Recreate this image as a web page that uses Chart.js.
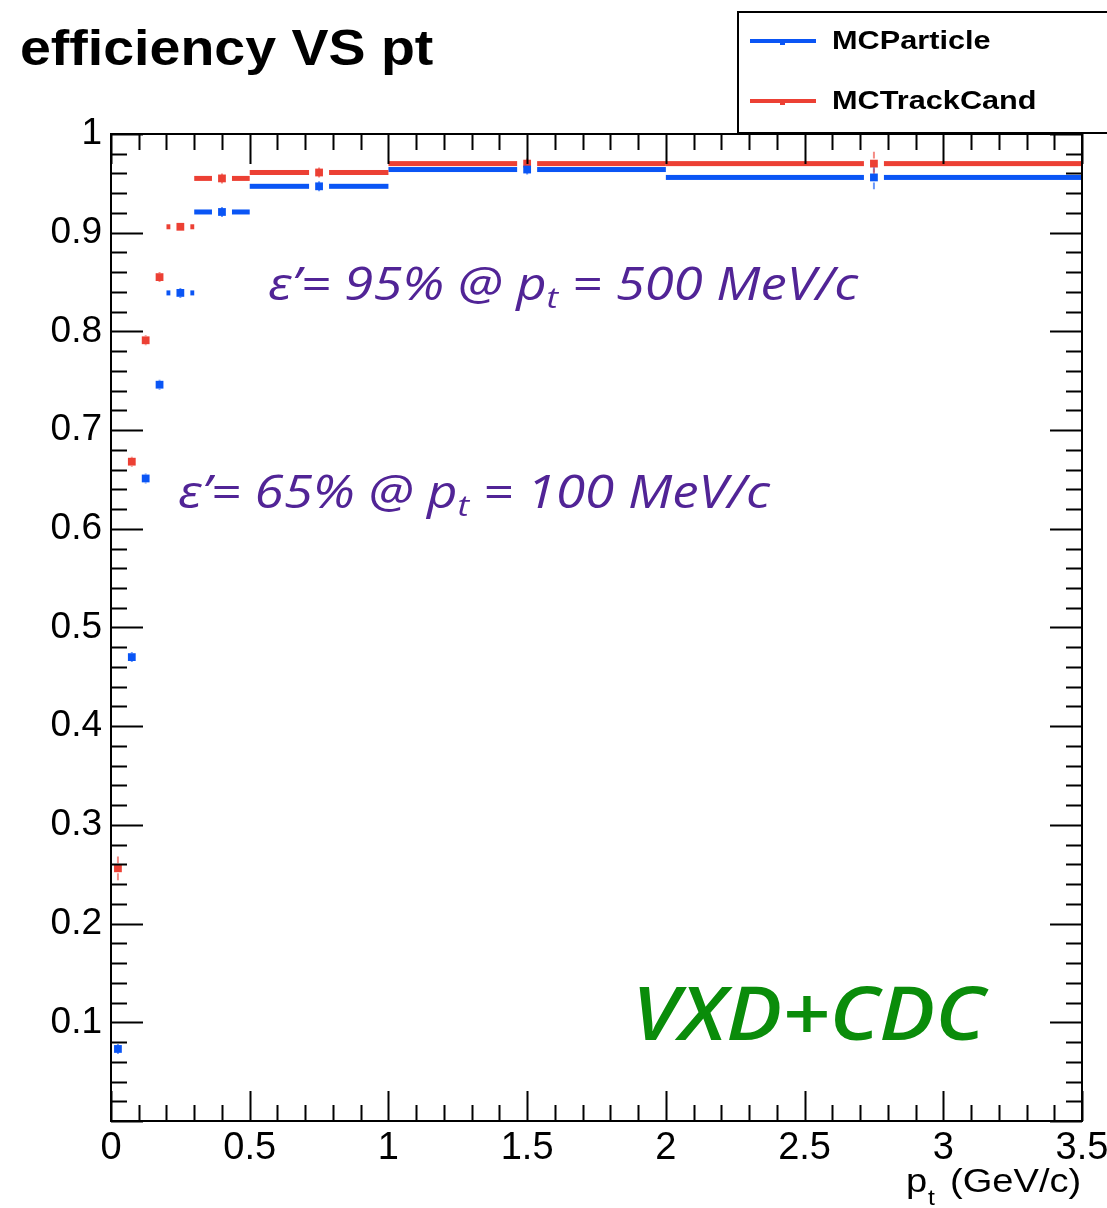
<!DOCTYPE html>
<html>
<head>
<meta charset="utf-8">
<script src="https://cdn.jsdelivr.net/npm/chart.js@4.4.0/dist/chart.umd.min.js"></script>
<style>
	html, body { margin: 0; padding: 0; background: #fff; }
	canvas { display: block; }
</style>
</head>
<body>
<canvas id="effChart" width="1107" height="1208"></canvas>
<script>
// bin edges in pt (GeV/c), variable width
const binEdges = [0, 0.05, 0.1, 0.15, 0.2, 0.3, 0.5, 1.0, 2.0, 3.5];
// efficiency per bin
const particleEff  = [0.073, 0.470, 0.651, 0.746, 0.839, 0.921, 0.947, 0.964, 0.956];
const trackCandEff = [0.256, 0.668, 0.791, 0.855, 0.906, 0.955, 0.961, 0.970, 0.970];
// errors (mostly tiny)
const particleErr  = [0.003, 0.004, 0.004, 0.004, 0.004, 0.003, 0.003, 0.003, 0.012];
const trackCandErr = [0.012, 0.004, 0.004, 0.004, 0.005, 0.003, 0.003, 0.003, 0.012];
const seriesNames = ['MCParticle', 'MCTrackCand'];
const xTickStep = 0.5;
const yTickStep = 0.1;

const BLUE = '#0a55f5';
const RED = '#ec4034';
const PURPLE = '#512496';
const GREEN = '#0a8c0a';

const binCenters = binEdges.slice(0, -1).map((e, i) => (e + binEdges[i + 1]) / 2);
const toPoints = vals => vals.map((v, i) => ({ x: binCenters[i], y: v }));

// draws text with a bit of horizontal stretch like the ROOT picture
const stretchText = (ctx, txt, x, y, sx) => {
	ctx.save();
	ctx.translate(x, y);
	ctx.scale(sx, 1);
	ctx.fillText(txt, 0, 0);
	ctx.restore();
};

const rootStyle = {
	id: 'rootStyle',
	beforeDatasetsDraw(chart) {
		const ctx = chart.ctx;
		const xs = chart.scales.x, ys = chart.scales.y;
		chart.data.datasets.forEach(ds => {
			ctx.save();
			ctx.fillStyle = ds.borderColor;
			ctx.strokeStyle = ds.borderColor;
			ds.data.forEach((p, i) => {
				const xl = xs.getPixelForValue(binEdges[i]);
				const xr = xs.getPixelForValue(binEdges[i + 1]);
				const xc = xs.getPixelForValue(p.x);
				const yp = ys.getPixelForValue(p.y);
				const gap = 10;
				if (xc - gap > xl) ctx.fillRect(xl, yp - 2.5, xc - gap - xl, 5);
				if (xr > xc + gap) ctx.fillRect(xc + gap, yp - 2.5, xr - xc - gap, 5);
				// vertical error bar
				const err = ds.errors[i];
				const yt = ys.getPixelForValue(p.y + err);
				const yb = ys.getPixelForValue(p.y - err);
				ctx.globalAlpha = 0.6;
				ctx.lineWidth = 2;
				ctx.beginPath();
				ctx.moveTo(xc, yt); ctx.lineTo(xc, yp - 5);
				ctx.moveTo(xc, yp + 5); ctx.lineTo(xc, yb);
				ctx.stroke();
				ctx.globalAlpha = 1;
			});
			ctx.restore();
		});
	},
	afterDraw(chart) {
		const ctx = chart.ctx;
		const a = chart.chartArea;
		const xs = chart.scales.x, ys = chart.scales.y;
		ctx.save();

		// frame
		ctx.strokeStyle = '#000';
		ctx.lineWidth = 2;
		ctx.strokeRect(a.left, a.top, a.right - a.left, a.bottom - a.top);

		// inner ticks on all four sides
		ctx.lineWidth = 2;
		ctx.beginPath();
		for (let v = 0; v <= 1.0001; v += 0.02) {
			const yy = Math.round(ys.getPixelForValue(v)) + 0.5;
			const major = Math.abs(v / yTickStep - Math.round(v / yTickStep)) < 1e-6;
			const len = major ? 32 : 16;
			ctx.moveTo(a.left, yy); ctx.lineTo(a.left + len, yy);
			ctx.moveTo(a.right, yy); ctx.lineTo(a.right - len, yy);
		}
		for (let v = 0; v <= 3.5001; v += 0.1) {
			const xx = Math.round(xs.getPixelForValue(v)) + 0.5;
			const major = Math.abs(v / xTickStep - Math.round(v / xTickStep)) < 1e-6;
			const len = major ? 30 : 16;
			ctx.moveTo(xx, a.bottom); ctx.lineTo(xx, a.bottom - len);
			ctx.moveTo(xx, a.top); ctx.lineTo(xx, a.top + len);
		}
		ctx.stroke();

		// title
		ctx.fillStyle = '#000';
		ctx.textBaseline = 'alphabetic';
		ctx.textAlign = 'left';
		ctx.font = 'bold 50px "Liberation Sans"';
		stretchText(ctx, 'efficiency VS pt', 20, 65, 1.11);

		// legend box
		ctx.fillStyle = '#fff';
		ctx.fillRect(738, 12, 400, 121);
		ctx.strokeStyle = '#000';
		ctx.lineWidth = 2;
		ctx.strokeRect(738, 12, 400, 121);
		const rows = [41, 101];
		chart.data.datasets.forEach((ds, i) => {
			const yy = rows[i];
			ctx.fillStyle = ds.borderColor;
			ctx.fillRect(750, yy - 2, 66, 4);
			ctx.fillRect(780, yy, 5, 4);
			ctx.fillStyle = '#000';
			ctx.font = 'bold 26px "Liberation Sans"';
			ctx.textBaseline = 'middle';
			stretchText(ctx, ds.label, 832, yy + 1, 1.18);
		});

		// axis title p_t (GeV/c)
		ctx.fillStyle = '#000';
		ctx.textBaseline = 'alphabetic';
		ctx.font = '34px "Liberation Sans"';
		stretchText(ctx, 'p', 906, 1192, 1.12);
		ctx.font = '22px "Liberation Sans"';
		stretchText(ctx, 't', 928, 1205, 1.12);
		ctx.font = '34px "Liberation Sans"';
		stretchText(ctx, '(GeV/c)', 950, 1192, 1.12);

		// annotations, stretched to the width they have in the picture
		const note = (x, y, width, pre, post) => {
			const big = 'italic 45px "Open Sans"', small = 'italic 30px "Open Sans"';
			ctx.font = big;
			const w1 = ctx.measureText(pre).width, w2 = ctx.measureText('p').width, w4 = ctx.measureText(post).width;
			ctx.font = small;
			const w3 = ctx.measureText('t').width;
			const sx = width / (w1 + w2 + w3 + w4);
			ctx.save();
			ctx.translate(x, y);
			ctx.scale(sx, 1);
			ctx.fillStyle = PURPLE;
			ctx.font = big;
			ctx.fillText(pre, 0, 0);
			ctx.fillText('p', w1, 0);
			ctx.font = small;
			ctx.fillText('t', w1 + w2, 8);
			ctx.font = big;
			ctx.fillText(post, w1 + w2 + w3, 0);
			ctx.restore();
		};
		note(268, 300, 590, 'ε’= 95% @ ', ' = 500 MeV/c');
		note(178, 508, 592, 'ε’= 65% @ ', ' = 100 MeV/c');

		ctx.fillStyle = GREEN;
		ctx.font = 'italic 600 74px "Open Sans"';
		const gw = ctx.measureText('VXD+CDC').width;
		stretchText(ctx, 'VXD+CDC', 632, 1040, 353 / gw);

		ctx.restore();
	}
};

const ctxEl = document.getElementById('effChart');
const effChart = new Chart(ctxEl, {
	type: 'scatter',
	data: {
		datasets: [{
			label: seriesNames[0],
			data: toPoints(particleEff),
			errors: particleErr,
			borderColor: BLUE,
			backgroundColor: BLUE,
			pointStyle: 'rect',
			pointRadius: 5.5,
			pointHoverRadius: 5.5,
			borderWidth: 0,
			showLine: false
		}, {
			label: seriesNames[1],
			data: toPoints(trackCandEff),
			errors: trackCandErr,
			borderColor: RED,
			backgroundColor: RED,
			pointStyle: 'rect',
			pointRadius: 5.5,
			pointHoverRadius: 5.5,
			borderWidth: 0,
			showLine: false
		}]
	},
	options: {
		responsive: false,
		animation: false,
		devicePixelRatio: 1,
		layout: { padding: { top: 134, right: 25, bottom: 27, left: 0 } },
		plugins: {
			legend: { display: false },
			tooltip: { enabled: false },
			title: { display: false }
		},
		scales: {
			x: {
				type: 'linear',
				min: 0,
				max: 3.5,
				grid: { display: false, drawTicks: false },
				border: { display: false },
				ticks: {
					stepSize: xTickStep,
					autoSkip: false,
					maxRotation: 0,
					color: '#000',
					padding: 5,
					font: { family: 'Liberation Sans', size: 38 },
					callback: v => String(+v.toFixed(1))
				},
				afterFit: scale => {
					scale.height = 60;
					scale.paddingLeft = 0;
					scale.paddingRight = 0;
				}
			},
			y: {
				min: 0,
				max: 1,
				grid: { display: false, drawTicks: false },
				border: { display: false },
				ticks: {
					stepSize: yTickStep,
					autoSkip: false,
					color: '#000',
					padding: 9,
					font: { family: 'Liberation Sans', size: 37 },
					callback: v => v === 0 ? '' : String(+v.toFixed(1))
				},
				afterFit: scale => {
					scale.width = 111;
					scale.paddingTop = 0;
					scale.paddingBottom = 0;
				}
			}
		}
	},
	plugins: [rootStyle]
});
</script>
</body>
</html>
